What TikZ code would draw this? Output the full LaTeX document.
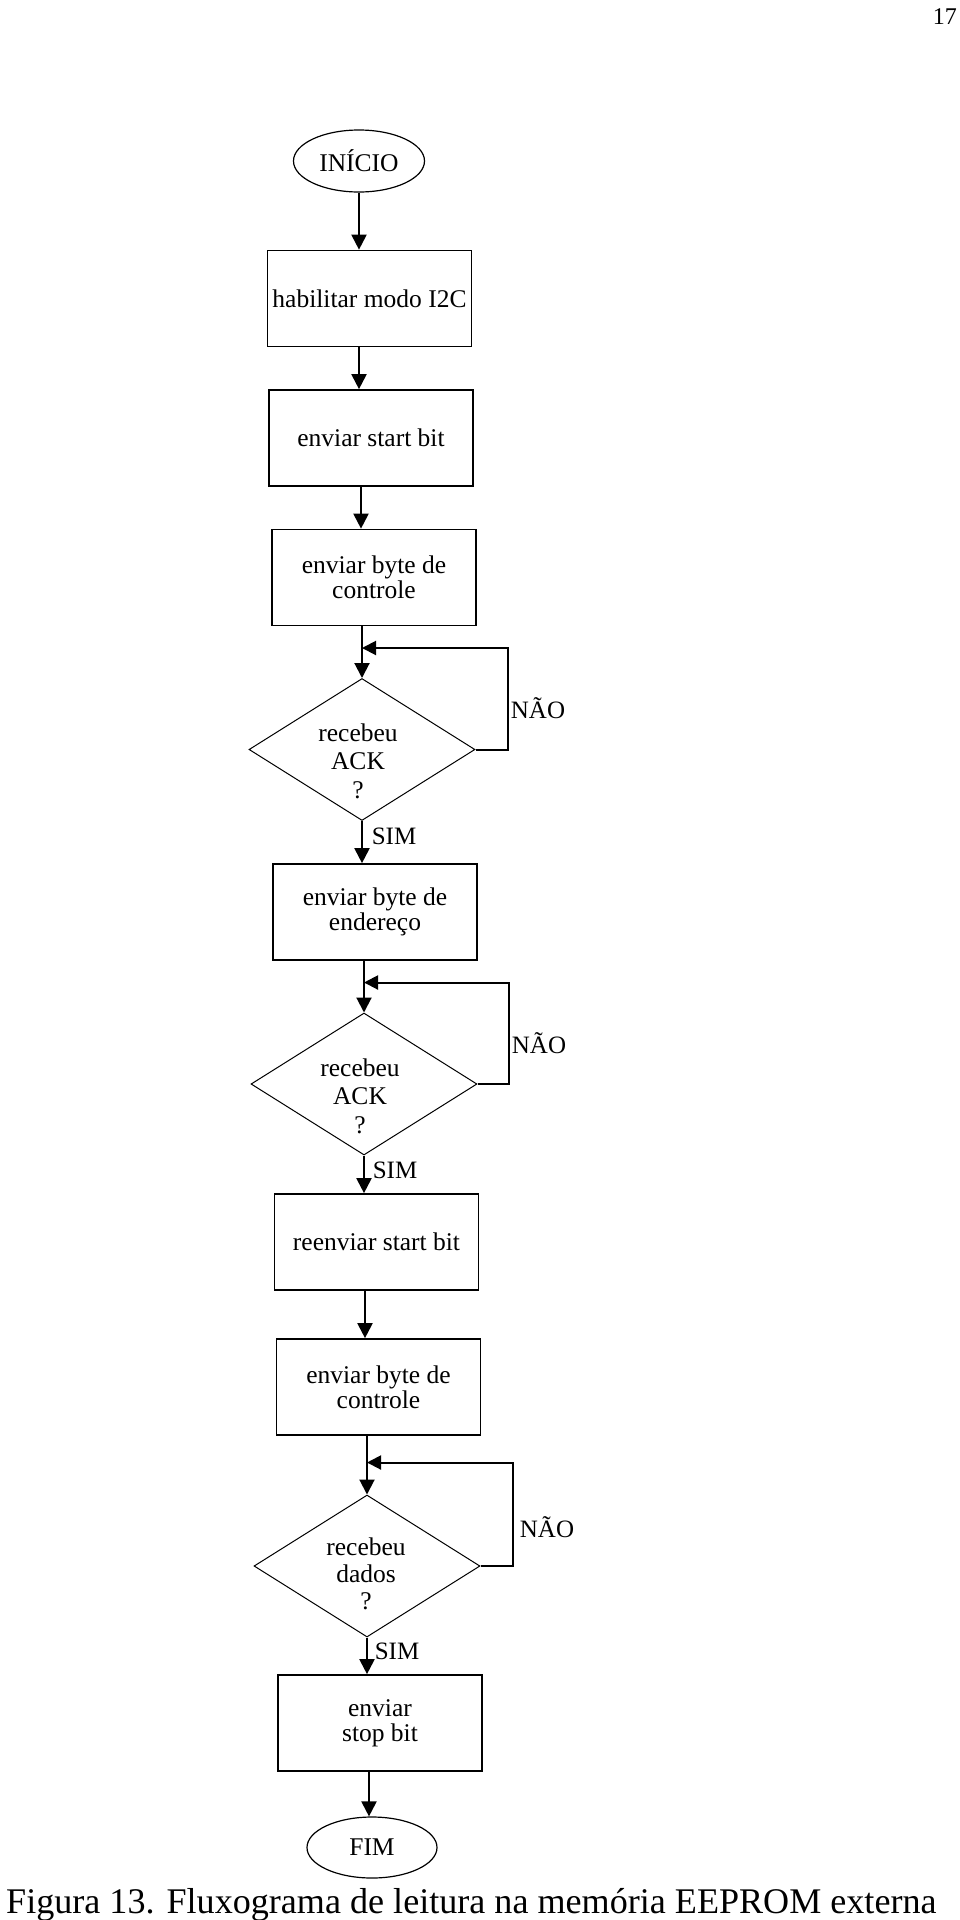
\documentclass[tikz,border=0pt]{standalone}
\usepackage{fontspec}
\setmainfont{Liberation Serif}
\usetikzlibrary{shapes.geometric,arrows.meta,calc}
\begin{document}
\begin{tikzpicture}[x=1pt,y=-1pt,
  txt/.style={font=\fontsize{25.5}{25}\selectfont},
  stepbox/.style={draw,line width=1.7pt,rectangle,minimum width=204pt,minimum height=96pt,inner sep=0pt,align=center,txt},
  term/.style={draw,line width=1.2pt,ellipse,minimum width=131pt,minimum height=62pt,inner sep=0pt,txt},
  decis/.style={draw,line width=1pt,diamond,minimum width=226pt,minimum height=142pt,inner sep=0pt},
  dtext/.style={font=\fontsize{25.5}{28.5}\selectfont,align=center},
  flow/.style={line width=2pt,-{Triangle[length=15pt,width=15pt]}},
  loopl/.style={line width=2pt,-{Triangle[length=14pt,width=14pt]}},
  lab/.style={font=\fontsize{25}{25}\selectfont,inner sep=0pt}
]
\useasboundingbox (0,0) rectangle (960,1920);

\node[term] (ini) at (359,161) {INÍCIO};
\node[stepbox] (b1) at (369.5,298.5) {habilitar modo I2C};
\node[stepbox] (b2) at (371,438) {enviar start bit};
\node[stepbox] (b3) at (374,577.5) {enviar byte de\\controle};
\node[decis] (d1) at (362,749.5) {};
\node[dtext] (d1t) at (358,761) {recebeu\\ACK\\?};
\node[stepbox] (b4) at (375,912) {enviar byte de\\endereço};
\node[decis] (d2) at (364,1084) {};
\node[dtext] (d2t) at (360,1096) {recebeu\\ACK\\?};
\node[stepbox] (b5) at (376.5,1242) {reenviar start bit};
\node[stepbox] (b6) at (378.5,1387) {enviar byte de\\controle};
\node[decis] (d3) at (367,1566) {};
\node[dtext,font=\fontsize{25.5}{27}\selectfont] (d3t) at (366,1574) {recebeu\\dados\\?};
\node[stepbox] (b7) at (380,1723) {enviar\\stop bit};
\node[term,minimum width=130pt,minimum height=61pt] (fim) at (372,1847.5) {FIM};

% main flow
\draw[flow] (ini.south) -- (ini.south |- b1.north);
\draw[flow] ([xshift=-10.5pt]b1.south) -- ([xshift=-10.5pt]b1.south |- b2.north);
\draw[flow] ([xshift=-10pt]b2.south) -- ([xshift=-10pt]b2.south |- b3.north);
\draw[flow] (d1.north |- b3.south) -- (d1.north);
\draw[flow] (d1.south) -- (d1.south |- b4.north);
\draw[flow] (d2.north |- b4.south) -- (d2.north);
\draw[flow] (d2.south) -- (d2.south |- b5.north);
\draw[flow] ([xshift=-11.5pt]b5.south) -- ([xshift=-11.5pt]b5.south |- b6.north);
\draw[flow] (d3.north |- b6.south) -- (d3.north);
\draw[flow] (d3.south) -- (d3.south |- b7.north);
\draw[flow] ([xshift=-11pt]b7.south) -- ([xshift=-11pt]b7.south |- fim.north);

% loops
\coordinate (l1) at ($(d1.north)+(0,-30)$);
\draw[loopl] (d1.east) -- ++(32,0) |- (l1);
\coordinate (l2) at ($(d2.north)+(0,-30)$);
\draw[loopl] (d2.east) -- ++(31,0) |- (l2);
\coordinate (l3) at ($(d3.north)+(0,-32)$);
\draw[loopl] (d3.east) -- ++(32,0) |- (l3);

% labels
\node[lab] (n1) at (538,708) {NÃO};
\node[lab] (s1) at (394,836) {SIM};
\node[lab] (n2) at (539,1043) {NÃO};
\node[lab] (s2) at (395,1170) {SIM};
\node[lab] (n3) at (547,1527) {NÃO};
\node[lab] (s3) at (397,1651) {SIM};

% page number and caption
\node[anchor=base east,inner sep=0pt,font=\fontsize{24}{26}\selectfont] (pg) at (957,24) {17};
\node[anchor=base west,inner sep=0pt,font=\fontsize{36.1}{40}\selectfont] (cap) at (6,1913) {Figura 13. Fluxograma de leitura na memória EEPROM externa};
\end{tikzpicture}
\end{document}
